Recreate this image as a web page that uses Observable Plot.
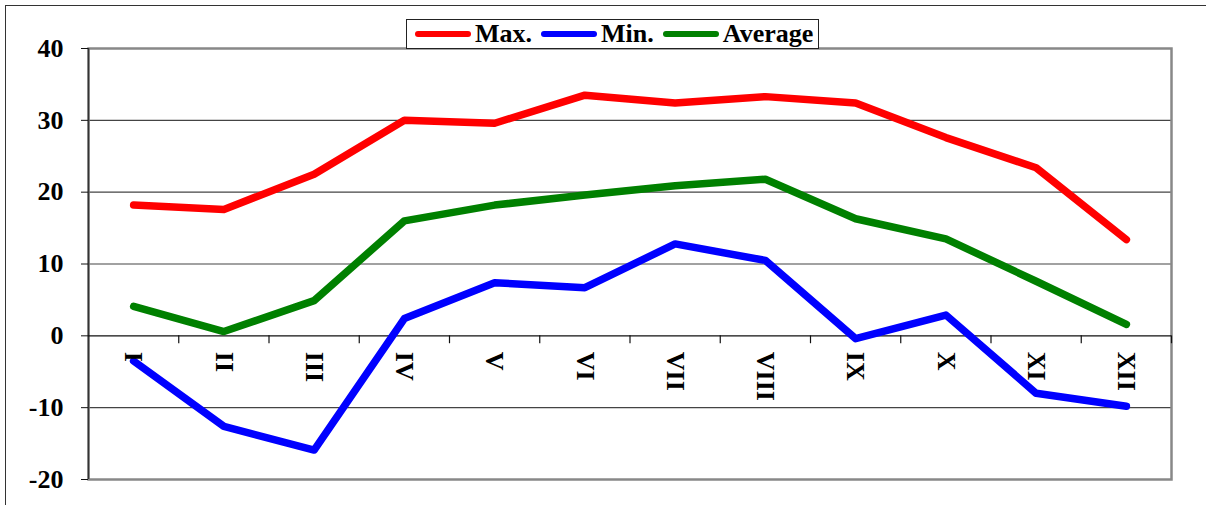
<!DOCTYPE html>
<html>
<head>
<meta charset="utf-8">
<script src="https://cdn.jsdelivr.net/npm/d3@7"></script>
<script src="https://cdn.jsdelivr.net/npm/@observablehq/plot@0.6"></script>
<style>
  html, body { margin: 0; padding: 0; background: #fff; overflow: hidden; }
  #wrap { position: relative; width: 1206px; height: 505px; overflow: hidden;
          font-family: "Liberation Serif", "Times New Roman", serif; }
  #border { position: absolute; left: 5px; top: 5px; width: 1260px; height: 560px;
            border: 1.5px solid #333; }
  #chart { position: absolute; left: 0; top: 0; }
  #legend { position: absolute; left: 406px; top: 19px; width: 413px; height: 30px; box-sizing: border-box;
            border: 1px solid #222; background: #fff; display: flex; align-items: center;
            padding: 0 3px 0 8px; font-weight: bold; font-size: 26px; line-height: 1; color: #000; }
  .item { display: flex; align-items: center; }
  .item + .item { margin-left: 9px; }
  .sw { width: 56px; height: 6px; border-radius: 3px; margin-right: 4px; }
</style>
</head>
<body>
<div id="wrap">
  <div id="border"></div>
  <div id="chart"></div>
  <div id="legend"></div>
</div>
<script>
// Month labels (Roman numerals) and monthly temperatures, °C
const months = ["I", "II", "III", "IV", "V", "VI", "VII", "VIII", "IX", "X", "XI", "XII"];
const maxTemp = [18.2, 17.6, 22.5, 30.0, 29.6, 33.5, 32.4, 33.3, 32.4, 27.6, 23.4, 13.4];
const minTemp = [-3.5, -12.6, -15.9, 2.4, 7.4, 6.7, 12.8, 10.5, -0.4, 2.9, -8.0, -9.8];
const avgTemp = [4.1, 0.6, 4.9, 16.0, 18.2, 19.6, 20.9, 21.8, 16.3, 13.5, 7.6, 1.6];

// Series names and colours
const seriesNames = ["Max.", "Min.", "Average"];
const seriesColors = ["#ff0000", "#0000ff", "#008000"];

// Axis ticks
const yTicks = [-20, -10, 0, 10, 20, 30, 40];
const gridValues = [-10, 10, 20, 30];

const rows = months.map((m, i) => ({i, m, max: maxTemp[i], min: minTemp[i], avg: avgTemp[i]}));
const boundaries = months.map((m, i) => i + 0.5);

const lineStyle = {x: "i", strokeWidth: 7.5, strokeLinejoin: "round", strokeLinecap: "round"};

const chart = Plot.plot({
  width: 1206,
  height: 505,
  marginLeft: 88,
  marginRight: 35,
  marginTop: 48,
  marginBottom: 26,
  style: {fontFamily: "'Liberation Serif', 'Times New Roman', serif", fontSize: "26px",
          fontWeight: "bold", background: "transparent", overflow: "visible", color: "#000"},
  x: {domain: [-0.5, months.length - 0.5], axis: null},
  y: {domain: [-20, 40], axis: null},
  marks: [
    Plot.ruleY(gridValues, {stroke: "#444", strokeWidth: 1.2}),
    Plot.frame({stroke: "#888", strokeWidth: 2.5}),
    Plot.ruleX([-0.5], {stroke: "#333", strokeWidth: 1.5}),
    Plot.ruleY([0], {stroke: "#111", strokeWidth: 1.2}),
    Plot.ruleX(boundaries, {y1: 0, y2: -1.1, stroke: "#111", strokeWidth: 1.2}),
    Plot.axisY(yTicks, {tickSize: 7, tickPadding: 18, label: null, tickFormat: d => String(d),
                        fontSize: 26, fontWeight: "bold", stroke: "#111"}),
    Plot.line(rows, {...lineStyle, y: "max", stroke: seriesColors[0]}),
    Plot.line(rows, {...lineStyle, y: "min", stroke: seriesColors[1]}),
    Plot.line(rows, {...lineStyle, y: "avg", stroke: seriesColors[2]}),
    Plot.text(rows, {x: "i", y: 0, text: "m", rotate: 90, textAnchor: "start", dy: 16,
                     fontSize: 26, fontWeight: "bold", fill: "#000"})
  ]
});
document.getElementById("chart").appendChild(chart);

// Legend: line swatch followed by series name
const legend = d3.select("#legend");
seriesNames.forEach((name, k) => {
  const item = legend.append("div").attr("class", "item");
  item.append("div").attr("class", "sw").style("background", seriesColors[k]);
  item.append("span").text(name);
});
</script>
</body>
</html>
